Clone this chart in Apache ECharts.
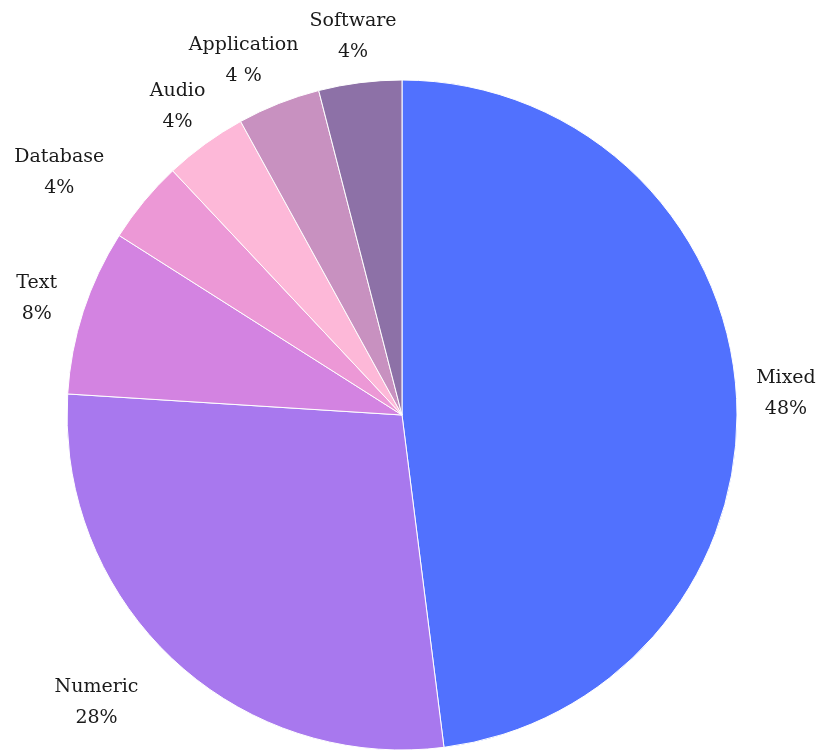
<!DOCTYPE html>
<html>
<head>
<meta charset="utf-8">
<script src="https://cdn.jsdelivr.net/npm/echarts@6/dist/echarts.min.js"></script>
<style>
  html, body { margin: 0; padding: 0; background: #ffffff; }
  #chart { width: 818px; height: 752px; }
</style>
</head>
<body>
<div id="chart"></div>
<script>
// Dataset types, share of datasets (%)
const categories = ['Mixed', 'Numeric', 'Text', 'Database', 'Audio', 'Application', 'Software'];
const values = [48, 28, 8, 4, 4, 4, 4];
const percentSuffix = ['%', '%', '%', '%', '%', ' %', '%'];
const colors = ['#5171FE', '#A878EE', '#D383E1', '#EC98D6', '#FDB8D8', '#C891C0', '#8D71A7'];

// Small per-label nudges (px) applied after the rim placement
const labelNudgeX = [-1, -28, -1, -28, 8, -10, 0];
const labelNudgeY = [3, -8, 2, 18, 11, 20, 9];

const chart = echarts.init(document.getElementById('chart'), null, { renderer: 'canvas' });

const pieCenter = [402, 415];
const pieRadius = 335;
const labelGap = 19;
const total = values.reduce((a, b) => a + b, 0);

// Place each label just outside the rim, along the slice's mid angle,
// pushed out by the label box's own extent in that direction.
function placeLabel(params) {
  const i = params.dataIndex;
  let before = 0;
  for (let k = 0; k < i; k++) before += values[k];
  const theta = (before + values[i] / 2) / total * Math.PI * 2;
  const dx = Math.sin(theta);
  const dy = -Math.cos(theta);
  const rect = params.labelRect;
  const ext = Math.abs(dx) * rect.width / 2 + Math.abs(dy) * rect.height / 2;
  const dist = pieRadius + labelGap + ext;
  return {
    x: pieCenter[0] + dx * dist + labelNudgeX[i],
    y: pieCenter[1] + dy * dist + labelNudgeY[i],
    align: 'center',
    verticalAlign: 'middle'
  };
}

chart.setOption({
  animation: false,
  backgroundColor: '#ffffff',
  series: [{
    type: 'pie',
    center: pieCenter,
    radius: pieRadius,
    startAngle: 90,
    clockwise: true,
    avoidLabelOverlap: false,
    itemStyle: { borderColor: '#ffffff', borderWidth: 1 },
    label: {
      show: true,
      position: 'outside',
      fontFamily: 'DejaVu Serif',
      fontSize: 19,
      lineHeight: 31,
      color: '#1a1a1a',
      align: 'center',
      formatter: p => p.name + '\n' + p.value + percentSuffix[p.dataIndex]
    },
    labelLine: { show: false },
    labelLayout: placeLabel,
    emphasis: { disabled: true },
    data: categories.map((name, i) => ({
      name: name,
      value: values[i],
      itemStyle: { color: colors[i] }
    }))
  }]
});
</script>
</body>
</html>
